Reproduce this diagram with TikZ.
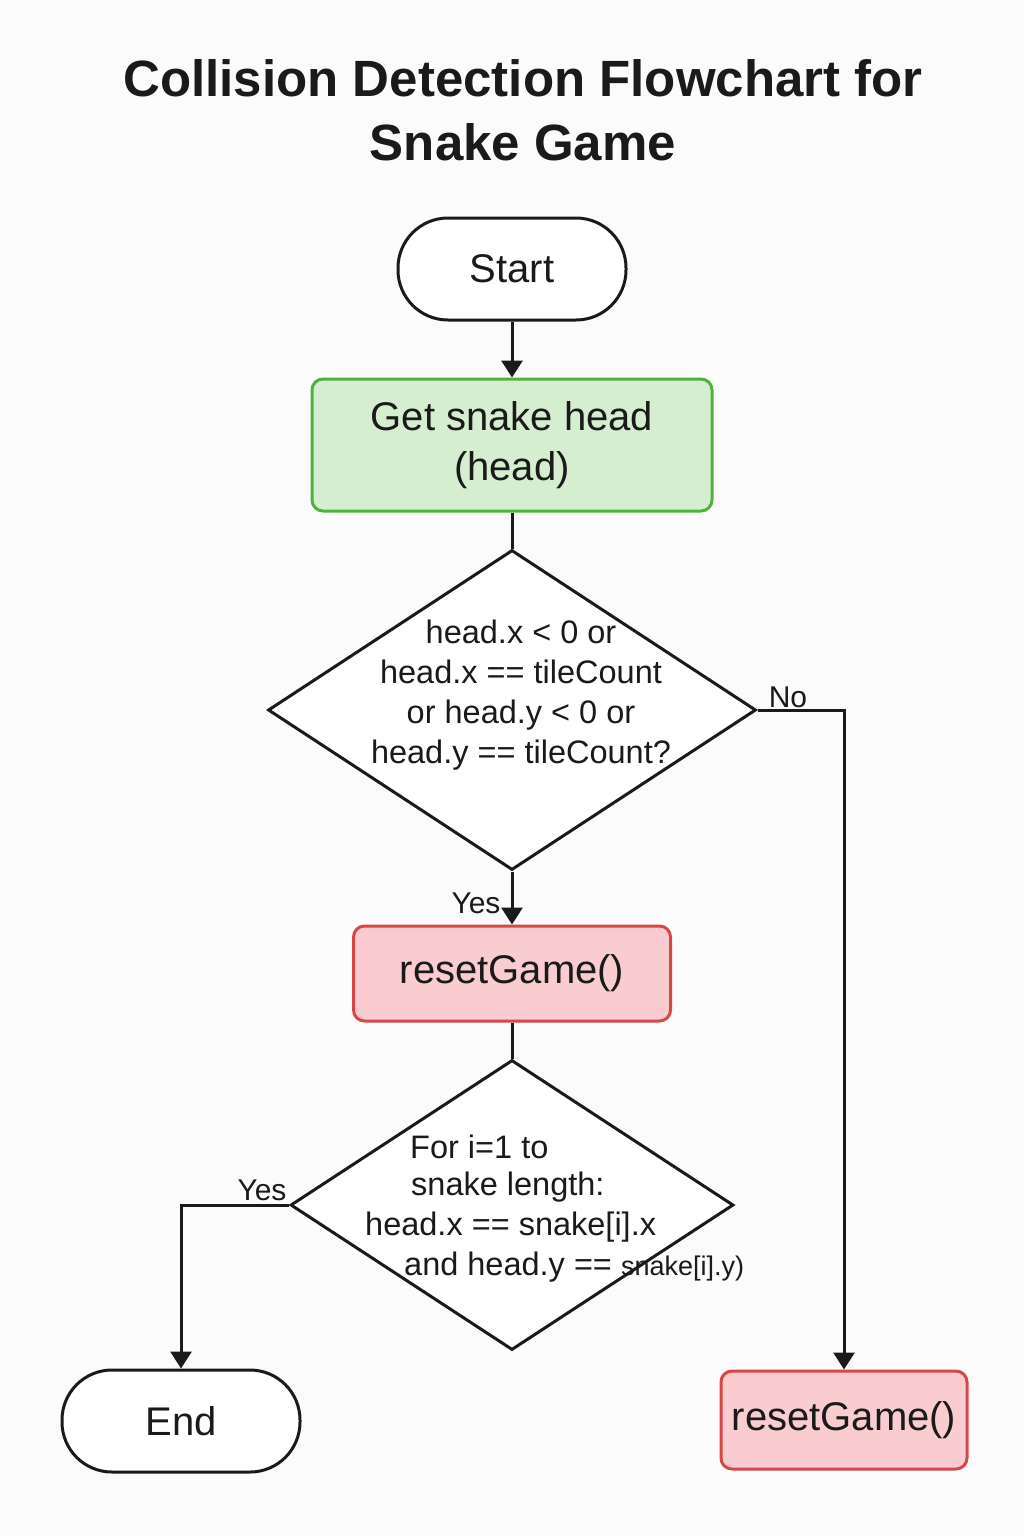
\documentclass[tikz,border=0pt]{standalone}
\usepackage{fontspec}
\setmainfont{Liberation Sans}
\usetikzlibrary{shapes.geometric,arrows.meta}
\definecolor{bg}{HTML}{FBFBFB}
\definecolor{ink}{HTML}{1A1A1A}
\definecolor{gfill}{HTML}{D6EED0}
\definecolor{gline}{HTML}{52B03E}
\definecolor{rfill}{HTML}{F9CDD0}
\definecolor{rline}{HTML}{D64848}
\tikzset{
  pill/.style={draw=ink, line width=3pt, fill=white, rounded corners=50pt, inner sep=0pt, font=\fontsize{40}{48}\selectfont, text=ink},
  procbox/.style={draw=gline, line width=3pt, fill=gfill, rounded corners=11pt, inner sep=0pt, align=center, font=\fontsize{40}{50}\selectfont, text=ink},
  resetbox/.style={draw=rline, line width=3pt, fill=rfill, rounded corners=11pt, inner sep=0pt, font=\fontsize{40}{48}\selectfont, text=ink},
  dia/.style={draw=ink, line width=3pt, fill=white, diamond, inner sep=0pt},
  diatext/.style={font=\fontsize{32.5}{40}\selectfont, text=ink, inner sep=0pt},
  lbl/.style={font=\fontsize{30}{34}\selectfont, text=ink, inner sep=0pt},
  conn/.style={draw=ink, line width=3pt},
  arr/.style={conn, -{Triangle[length=17pt,width=21pt]}},
}
\begin{document}
\begin{tikzpicture}[x=1pt,y=-1pt]
\useasboundingbox (0,0) rectangle (1024,1536);
\fill[bg] (0,0) rectangle (1024,1536);

\node[font=\bfseries\fontsize{51}{64}\selectfont, text=ink, align=center, inner sep=0pt] (title) at (523,110) {Collision Detection Flowchart for\\Snake Game};

\node[pill, minimum width=228pt, minimum height=102pt] (start) at (512,269) {Start};
\node[procbox, minimum width=400pt, minimum height=132pt] (get) at (512,445) {Get snake head\\(head)};
\node[dia, minimum width=488pt, minimum height=320pt] (d1) at (512,710) {};
\node[diatext, align=center] (d1t) at (521,695) {head.x {\char`<} 0 or\\head.x == tileCount\\or head.y {\char`<} 0 or\\head.y == tileCount?};
\node[resetbox, minimum width=317pt, minimum height=95pt] (r1) at (512,973.5) {resetGame()};
\node[dia, minimum width=443pt, minimum height=290pt] (d2) at (512,1205) {};
\node[diatext, anchor=west] (l1) at (410,1147) {For i=1 to};
\node[diatext, anchor=west] (l2) at (411,1187) {snake length:};
\node[diatext, anchor=west] (l3) at (365,1227) {head.x == snake[i].x};
\node[diatext, anchor=west] (l4) at (404,1267) {and head.y == {\fontsize{27}{30}\selectfont snake[i].y)}};
\node[pill, minimum width=238pt, minimum height=102pt] (end) at (181,1421) {End};
\node[resetbox, minimum width=246pt, minimum height=98pt] (r2) at (844,1420) {resetGame()};

\coordinate (nocorner) at (844,710);
\coordinate (yescorner) at (181,1205);

\draw[arr] (start) -- (get);
\draw[conn] (get) -- (d1.north);
\draw[arr] (d1.south) -- (r1);
\draw[conn] (r1) -- (d2.north);
\draw[arr] (d1.east) -- (nocorner) -- (r2.north);
\draw[arr] (d2.west) -- (yescorner) -- (end.north);

\node[lbl] (yes1) at (476,903) {Yes};
\node[lbl] (no1) at (788,697) {No};
\node[lbl] (yes2) at (262,1190) {Yes};
\end{tikzpicture}
\end{document}
